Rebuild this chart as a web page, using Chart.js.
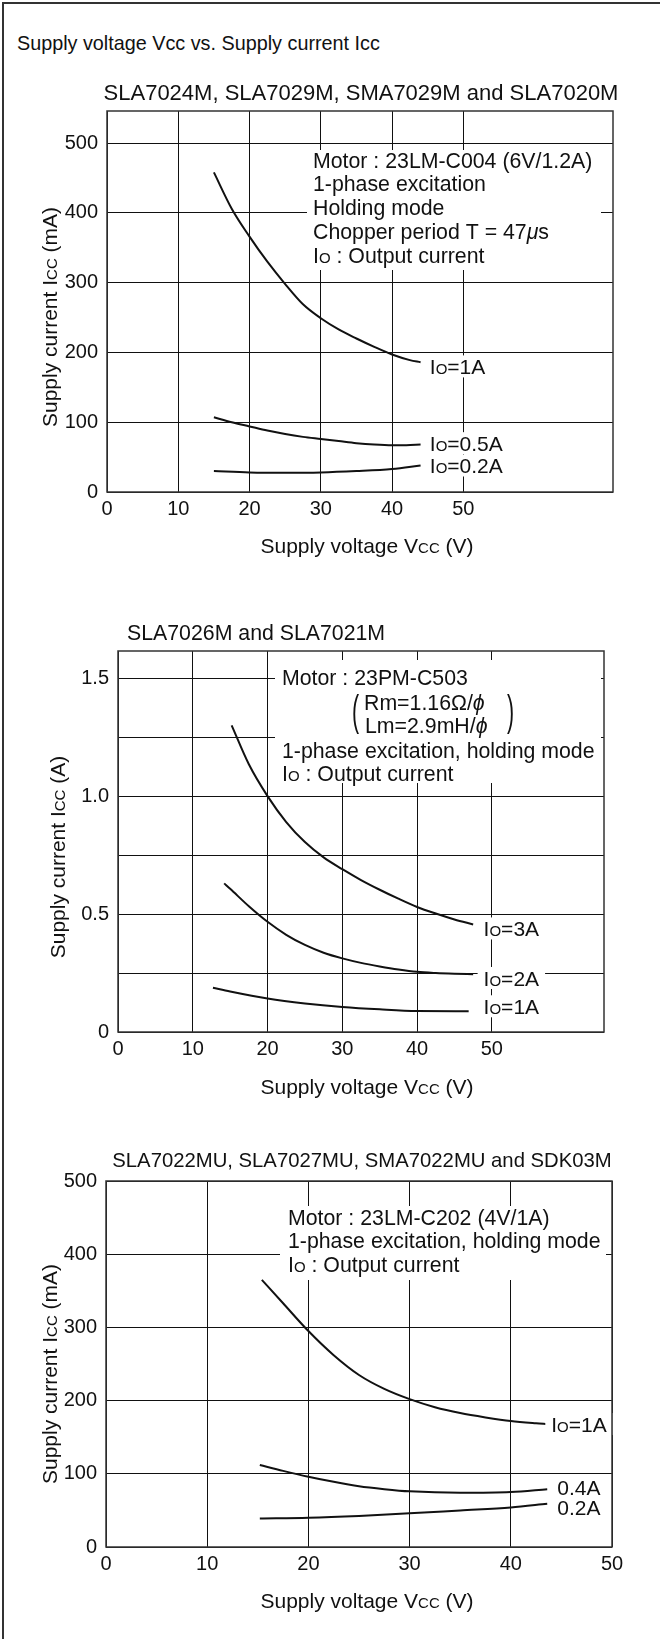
<!DOCTYPE html>
<html>
<head>
<meta charset="utf-8">
<script src="https://cdn.jsdelivr.net/npm/chart.js@4.4.1/dist/chart.umd.min.js"></script>
<style>
    body { margin: 0; background: #fff; }
    #page { position: relative; width: 660px; height: 1639px; overflow: hidden; background: #fff;
            font-family: "Liberation Sans", Arial, Helvetica, sans-serif; color: #111; }
    #frame { position: absolute; left: 2px; top: 2px; width: 800px; height: 1800px;
             border-left: 2px solid #333; border-top: 2px solid #333; }
    #title { position: absolute; left: 17px; top: 31px; font-size: 19.8px; line-height: 24px; white-space: nowrap; }
    canvas { position: absolute; left: 0; }
</style>
</head>
<body>
<div id="page">
    <div id="frame"></div>
    <div id="title">Supply voltage Vcc vs. Supply current Icc</div>
    <canvas id="chart1" width="660" height="510" style="top:60px"></canvas>
    <canvas id="chart2" width="660" height="500" style="top:600px"></canvas>
    <canvas id="chart3" width="660" height="509" style="top:1130px"></canvas>
</div>
<script>
// ---- chart 1: SLA7024M, SLA7029M, SMA7029M, SLA7020M ----
const c1XTicks = [0, 10, 20, 30, 40, 50];
const c1YTicks = [0, 100, 200, 300, 400, 500];
const c1YLabels = ['0', '100', '200', '300', '400', '500'];
const c1Vcc1A  = [15, 17.5, 20, 22.5, 25, 27.5, 30, 32.5, 35, 37.5, 40, 42.5, 44];
const c1Icc1A  = [458, 406, 366, 330, 298, 269, 249, 233, 220, 208, 197, 189, 186];
const c1Vcc05A = [15, 17.5, 20, 22.5, 25, 27.5, 30, 32.5, 35, 37.5, 40, 42, 44];
const c1Icc05A = [107, 100, 94, 88, 83, 79, 76, 73, 70, 68, 67, 67, 68];
const c1Vcc02A = [15, 20, 25, 30, 35, 40, 44];
const c1Icc02A = [30, 28, 27.5, 28, 30, 33, 38];
const c1Labels = ['I{O}=1A', 'I{O}=0.5A', 'I{O}=0.2A'];
const c1LabelX = [45.3, 45.3, 45.3];
const c1LabelY = [180, 70, 38];

// ---- chart 2: SLA7026M, SLA7021M ----
const c2XTicks = [0, 10, 20, 30, 40, 50];
const c2YTicks = [0, 0.25, 0.5, 0.75, 1.0, 1.25, 1.5];
const c2YLabels = ['0', '', '0.5', '', '1.0', '', '1.5'];
const c2Vcc3A = [15.2, 17.5, 20, 22.5, 25, 27.5, 30, 32.5, 35, 37.5, 40, 42.5, 45, 47.5];
const c2Icc3A = [1.30, 1.135, 1.0, 0.89, 0.805, 0.74, 0.69, 0.644, 0.603, 0.565, 0.53, 0.502, 0.477, 0.456];
const c2Vcc2A = [14.2, 15, 17.5, 20, 22.5, 25, 27.5, 30, 32.5, 35, 37.5, 40, 42.5, 45, 47.5];
const c2Icc2A = [0.63, 0.607, 0.533, 0.467, 0.412, 0.369, 0.336, 0.312, 0.293, 0.278, 0.265, 0.255, 0.250, 0.247, 0.245];
const c2Vcc1A = [12.7, 15, 20, 25, 30, 35, 40, 46.9];
const c2Icc1A = [0.188, 0.172, 0.142, 0.121, 0.106, 0.096, 0.089, 0.088];
const c2Labels = ['I{O}=3A', 'I{O}=2A', 'I{O}=1A'];
const c2LabelX = [48.9, 48.9, 48.9];
const c2LabelY = [0.439, 0.229, 0.109];

// ---- chart 3: SLA7022MU, SLA7027MU, SMA7022MU, SDK03M ----
const c3XTicks = [0, 10, 20, 30, 40, 50];
const c3YTicks = [0, 100, 200, 300, 400, 500];
const c3YLabels = ['0', '100', '200', '300', '400', '500'];
const c3Vcc1A  = [15.4, 17.5, 20, 22.5, 25, 27.5, 30, 32.5, 35, 37.5, 40, 42.5, 43.6];
const c3Icc1A  = [365, 333, 295, 262, 235, 216, 202, 191, 183, 177, 172, 169, 168];
const c3Vcc04A = [15.2, 17.5, 20, 22.5, 25, 27.5, 30, 35, 40, 43.6];
const c3Icc04A = [112, 104, 96, 89, 83, 79, 76, 74, 75, 79];
const c3Vcc02A = [15.2, 20, 25, 30, 35, 40, 43.6];
const c3Icc02A = [39, 40, 42.5, 46, 50, 54, 59];
const c3Labels = ['I{O}=1A', '0.4A', '0.2A'];
const c3LabelX = [44.0, 44.6, 44.6];
const c3LabelY = [168, 81, 54];

const FONT = '"Liberation Sans", Arial, Helvetica, sans-serif';
const TXT = 21;     // axis titles and curve labels
const NOTE = 21.3;  // motor notes
Chart.defaults.font.family = FONT;
Chart.defaults.color = '#111';

// "{..}" = small capitals (Icc, Io), "[..]" = italic (mu, phi)
function splitRich(str) {
    const out = [];
    const re = /\{([^}]*)\}|\[([^\]]*)\]|([^{\[]+)/g;
    let m;
    while ((m = re.exec(str))) {
        if (m[1] !== undefined) out.push([m[1], 'sc']);
        else if (m[2] !== undefined) out.push([m[2], 'it']);
        else out.push([m[3], '']);
    }
    return out;
}

function fontFor(style, size) {
    return (style === 'it' ? 'italic ' : '') + (style === 'sc' ? Math.round(size * 0.72) : size) + 'px ' + FONT;
}

function richWidth(ctx, str, size) {
    let w = 0;
    splitRich(str).forEach(([t, st]) => { ctx.font = fontFor(st, size); w += ctx.measureText(t).width; });
    return w;
}

// y is the vertical middle of the capitals
function drawRich(ctx, str, x, y, size, align) {
    const w = richWidth(ctx, str, size);
    let cx = align === 'center' ? x - w / 2 : x;
    ctx.textAlign = 'left';
    ctx.textBaseline = 'alphabetic';
    splitRich(str).forEach(([t, st]) => {
        ctx.font = fontFor(st, size);
        ctx.fillText(t, cx, y + size * 0.36);
        cx += ctx.measureText(t).width;
    });
    return w;
}

// titles, notes, curve labels and the plot frame
function decor(cfg) {
    return {
        id: 'decor',
        afterDatasetsDraw(chart) {
            const ctx = chart.ctx;
            const a = chart.chartArea;
            const sx = chart.scales.x, sy = chart.scales.y;
            ctx.save();

            ctx.fillStyle = '#fff';
            const b = cfg.box;
            ctx.fillRect(b[0], b[1], b[2] - b[0], b[3] - b[1]);
            const lbls = cfg.labels.map((t, i) => ({
                t: t,
                x: sx.getPixelForValue(cfg.labelX[i]),
                y: sy.getPixelForValue(cfg.labelY[i])
            }));
            lbls.forEach(l => {
                const w = richWidth(ctx, l.t, TXT);
                ctx.fillRect(l.x - 6, l.y - 11, w + 12, 22);
            });

            ctx.strokeStyle = '#333';
            ctx.lineWidth = 1.5;
            ctx.strokeRect(a.left, a.top, a.right - a.left, a.bottom - a.top);

            ctx.fillStyle = '#111';
            lbls.forEach(l => drawRich(ctx, l.t, l.x, l.y, TXT, 'left'));
            cfg.notes.forEach(n => drawRich(ctx, n[0], n[1], n[2], NOTE, 'left'));
            (cfg.parens || []).forEach(p => {
                ctx.save();
                ctx.translate(p[1], p[2]);
                ctx.scale(1, 2.0);
                ctx.font = NOTE + 'px ' + FONT;
                ctx.textAlign = 'left';
                ctx.textBaseline = 'middle';
                ctx.fillText(p[0], 0, 0);
                ctx.restore();
            });

            drawRich(ctx, cfg.sub[0], cfg.sub[1], cfg.sub[2], cfg.sub[4], cfg.sub[3]);
            drawRich(ctx, 'Supply voltage V{CC} (V)', cfg.xTitle[0], cfg.xTitle[1], TXT, 'center');
            ctx.translate(cfg.yTitle[0], cfg.yTitle[1]);
            ctx.rotate(-Math.PI / 2);
            drawRich(ctx, cfg.yTitle[2], 0, 0, TXT, 'center');
            ctx.restore();
        }
    };
}

function makeChart(id, cfg) {
    const datasets = cfg.series.map(s => ({
        data: s[0].map((v, i) => ({ x: v, y: s[1][i] })),
        borderColor: '#111',
        borderWidth: 2,
        pointRadius: 0,
        fill: false,
        cubicInterpolationMode: 'monotone'
    }));
    return new Chart(document.getElementById(id), {
        type: 'line',
        data: { datasets: datasets },
        options: {
            responsive: false,
            animation: false,
            layout: { padding: cfg.pad },
            plugins: { legend: { display: false }, tooltip: { enabled: false } },
            scales: {
                x: {
                    type: 'linear', min: 0, max: cfg.xMax,
                    afterBuildTicks: s => { s.ticks = cfg.xTicks.map(v => ({ value: v })); },
                    afterFit: s => { s.height = 30; },
                    grid: { color: '#111', lineWidth: 1, drawTicks: false },
                    border: { display: false },
                    ticks: { padding: 5, maxRotation: 0, font: { size: 20 } }
                },
                y: {
                    type: 'linear', min: 0, max: cfg.yMax,
                    afterBuildTicks: s => { s.ticks = cfg.yTicks.map(v => ({ value: v })); },
                    afterFit: s => { s.width = cfg.yWidth; },
                    grid: { color: '#111', lineWidth: 1, drawTicks: false },
                    border: { display: false },
                    ticks: { padding: 9, font: { size: 20 }, callback: (v, i) => cfg.yLabels[i] }
                }
            }
        },
        plugins: [decor(cfg)]
    });
}

makeChart('chart1', {
    series: [[c1Vcc1A, c1Icc1A], [c1Vcc05A, c1Icc05A], [c1Vcc02A, c1Icc02A]],
    xTicks: c1XTicks, yTicks: c1YTicks, yLabels: c1YLabels,
    xMax: 71, yMax: 546, yWidth: 107,
    pad: { left: 0, top: 51, right: 47, bottom: 48 },
    labels: c1Labels, labelX: c1LabelX, labelY: c1LabelY,
    box: [307, 90, 601, 210],
    notes: [
        ['Motor : 23LM-C004 (6V/1.2A)', 313, 100],
        ['1-phase excitation', 313, 123.8],
        ['Holding mode', 313, 147.6],
        ['Chopper period T = 47[\u03bc]s', 313, 171.4],
        ['I{O} : Output current', 313, 195.2]
    ],
    sub: ['SLA7024M, SLA7029M, SMA7029M and SLA7020M', 361, 32, 'center', 22],
    xTitle: [367, 485],
    yTitle: [49, 257, 'Supply current I{CC} (mA)']
});

makeChart('chart2', {
    series: [[c2Vcc3A, c2Icc3A], [c2Vcc2A, c2Icc2A], [c2Vcc1A, c2Icc1A]],
    xTicks: c2XTicks, yTicks: c2YTicks, yLabels: c2YLabels,
    xMax: 65, yMax: 1.615, yWidth: 118,
    pad: { left: 0, top: 51, right: 56, bottom: 38 },
    labels: c2Labels, labelX: c2LabelX, labelY: c2LabelY,
    box: [275, 60, 601, 183],
    notes: [
        ['Motor : 23PM-C503', 282, 77],
        ['Rm=1.16\u03a9/[\u03d5]', 364, 102],
        ['Lm=2.9mH/[\u03d5]', 365, 125],
        ['1-phase excitation, holding mode', 282, 150],
        ['I{O} : Output current', 282, 173]
    ],
    parens: [['(', 352, 113.5], [')', 507, 113.5]],
    sub: ['SLA7026M and SLA7021M', 127, 32, 'left', 21.3],
    xTitle: [367, 486],
    yTitle: [57, 257, 'Supply current I{CC} (A)']
});

makeChart('chart3', {
    series: [[c3Vcc1A, c3Icc1A], [c3Vcc04A, c3Icc04A], [c3Vcc02A, c3Icc02A]],
    xTicks: c3XTicks, yTicks: c3YTicks, yLabels: c3YLabels,
    xMax: 50, yMax: 500, yWidth: 106,
    pad: { left: 0, top: 51, right: 48, bottom: 62 },
    labels: c3Labels, labelX: c3LabelX, labelY: c3LabelY,
    box: [280, 76, 606, 150],
    notes: [
        ['Motor : 23LM-C202 (4V/1A)', 288, 87],
        ['1-phase excitation, holding mode', 288, 110.5],
        ['I{O} : Output current', 288, 134]
    ],
    sub: ['SLA7022MU, SLA7027MU, SMA7022MU and SDK03M', 362, 30, 'center', 20.3],
    xTitle: [367, 470],
    yTitle: [49, 244, 'Supply current I{CC} (mA)']
});
</script>
</body>
</html>
